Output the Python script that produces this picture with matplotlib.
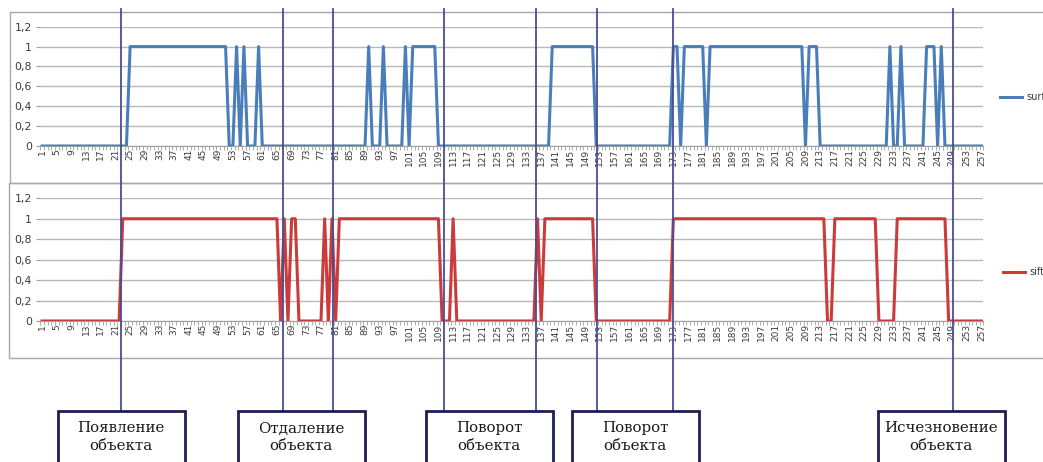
import matplotlib
matplotlib.use('Agg')
import matplotlib.pyplot as plt
from matplotlib.lines import Line2D
from matplotlib.patches import Rectangle
import numpy as np

# ---------------- data ----------------
categories = np.arange(1, 258)
surf = [
    0, 0, 0, 0, 0, 0, 0, 0, 0, 0,
    0, 0, 0, 0, 0, 0, 0, 0, 0, 0,
    0, 0, 0, 0, 1, 1, 1, 1, 1, 1,
    1, 1, 1, 1, 1, 1, 1, 1, 1, 1,
    1, 1, 1, 1, 1, 1, 1, 1, 1, 1,
    1, 0, 0, 1, 0, 1, 0, 0, 0, 1,
    0, 0, 0, 0, 0, 0, 0, 0, 0, 0,
    0, 0, 0, 0, 0, 0, 0, 0, 0, 0,
    0, 0, 0, 0, 0, 0, 0, 0, 0, 1,
    0, 0, 0, 1, 0, 0, 0, 0, 0, 1,
    0, 1, 1, 1, 1, 1, 1, 1, 0, 0,
    0, 0, 0, 0, 0, 0, 0, 0, 0, 0,
    0, 0, 0, 0, 0, 0, 0, 0, 0, 0,
    0, 0, 0, 0, 0, 0, 0, 0, 0, 1,
    1, 1, 1, 1, 1, 1, 1, 1, 1, 1,
    1, 0, 0, 0, 0, 0, 0, 0, 0, 0,
    0, 0, 0, 0, 0, 0, 0, 0, 0, 0,
    0, 0, 1, 1, 0, 1, 1, 1, 1, 1,
    1, 0, 1, 1, 1, 1, 1, 1, 1, 1,
    1, 1, 1, 1, 1, 1, 1, 1, 1, 1,
    1, 1, 1, 1, 1, 1, 1, 1, 0, 1,
    1, 1, 0, 0, 0, 0, 0, 0, 0, 0,
    0, 0, 0, 0, 0, 0, 0, 0, 0, 0,
    0, 1, 0, 0, 1, 0, 0, 0, 0, 0,
    0, 1, 1, 1, 0, 1, 0, 0, 0, 0,
    0, 0, 0, 0, 0, 0, 0,
]
sift = [
    0, 0, 0, 0, 0, 0, 0, 0, 0, 0,
    0, 0, 0, 0, 0, 0, 0, 0, 0, 0,
    0, 0, 1, 1, 1, 1, 1, 1, 1, 1,
    1, 1, 1, 1, 1, 1, 1, 1, 1, 1,
    1, 1, 1, 1, 1, 1, 1, 1, 1, 1,
    1, 1, 1, 1, 1, 1, 1, 1, 1, 1,
    1, 1, 1, 1, 1, 0, 1, 0, 1, 1,
    0, 0, 0, 0, 0, 0, 0, 1, 0, 1,
    0, 1, 1, 1, 1, 1, 1, 1, 1, 1,
    1, 1, 1, 1, 1, 1, 1, 1, 1, 1,
    1, 1, 1, 1, 1, 1, 1, 1, 1, 0,
    0, 0, 1, 0, 0, 0, 0, 0, 0, 0,
    0, 0, 0, 0, 0, 0, 0, 0, 0, 0,
    0, 0, 0, 0, 0, 1, 0, 1, 1, 1,
    1, 1, 1, 1, 1, 1, 1, 1, 1, 1,
    1, 0, 0, 0, 0, 0, 0, 0, 0, 0,
    0, 0, 0, 0, 0, 0, 0, 0, 0, 0,
    0, 0, 1, 1, 1, 1, 1, 1, 1, 1,
    1, 1, 1, 1, 1, 1, 1, 1, 1, 1,
    1, 1, 1, 1, 1, 1, 1, 1, 1, 1,
    1, 1, 1, 1, 1, 1, 1, 1, 1, 1,
    1, 1, 1, 1, 0, 0, 1, 1, 1, 1,
    1, 1, 1, 1, 1, 1, 1, 1, 0, 0,
    0, 0, 0, 1, 1, 1, 1, 1, 1, 1,
    1, 1, 1, 1, 1, 1, 1, 0, 0, 0,
    0, 0, 0, 0, 0, 0, 0,
]
x_tick_labels = [str(v) for v in range(1, 258, 4)]
y_ticks = [0, 0.2, 0.4, 0.6, 0.8, 1.0, 1.2]
y_tick_labels = ['0', '0,2', '0,4', '0,6', '0,8', '1', '1,2']
series_names = ['surf', 'sift']
event_x = [22.5, 66.6, 80.4, 110.6, 135.6, 152.3, 173.0, 249.1]
box_labels = ['Появление\nобъекта', 'Отдаление\nобъекта', 'Поворот\nобъекта',
              'Поворот\nобъекта', 'Исчезновение\nобъекта']

# ---------------- layout helpers ----------------
W, H = 1043, 462
fig = plt.figure(figsize=(W / 100, H / 100), dpi=100)
fig.patch.set_facecolor('white')

def fx(px):
    return px / W

def fy(py):
    return 1 - py / H

# chart frames (Excel chart areas)
for (l, t, b) in [(10, 12, 183), (9, 183, 358)]:
    fig.patches.append(Rectangle((fx(l), fy(b)), fx(1070 - l), (b - t) / H,
                                 transform=fig.transFigure, fill=False,
                                 ec='#A8A8A8', lw=1.0, zorder=0))

ax_top = fig.add_axes([fx(40.2), fy(146), fx(943.3), (146 - 26.7) / H])
ax_bot = fig.add_axes([fx(40.2), fy(321), fx(943.3), (321 - 198.3) / H])

colors = ['#4A7EBB', '#CC3B3B']
legend_y = [97, 272]
legend_x = [1000, 1003]

for ax, vals, col, name, ly, lx in zip([ax_top, ax_bot], [surf, sift], colors,
                                       series_names, legend_y, legend_x):
    ax.patch.set_visible(False)
    ax.plot(categories, vals, color=col, lw=2.2, label=name, zorder=3)
    ax.set_xlim(0.5, 257.5)
    ax.set_ylim(0, 1.2)
    ax.set_yticks(y_ticks)
    ax.set_yticklabels(y_tick_labels, fontsize=7.8, color='#3a3a3a')
    ax.set_xticks(np.arange(1, 258, 4))
    ax.set_xticklabels(x_tick_labels, rotation=90, fontsize=6.5, color='#3a3a3a')
    ax.set_xticks(np.arange(0.5, 258, 1), minor=True)
    ax.tick_params(axis='x', which='major', length=0, pad=2)
    ax.tick_params(axis='x', which='minor', length=3, color='#A0A0A0', width=0.6)
    ax.tick_params(axis='y', length=3, color='#A0A0A0', width=0.8, pad=3)
    ax.yaxis.grid(True, color='#B8B8B8', lw=1.0)
    ax.set_axisbelow(True)
    for s in ['top', 'right', 'left']:
        ax.spines[s].set_visible(False)
    ax.spines['bottom'].set_color('#A0A0A0')
    ax.legend(loc='center left', bbox_to_anchor=(fx(lx), fy(ly)),
              bbox_transform=fig.transFigure, frameon=False, fontsize=7,
              handlelength=2.3, handletextpad=0.4, borderpad=0, borderaxespad=0,
              labelcolor='#404040')

# event lines
line_top, line_bot = 9, 411
for ex in event_x:
    xp = ax_top.transData.transform((ex, 0))[0]
    fig.lines.append(Line2D([xp / W, xp / W], [fy(line_top), fy(line_bot)],
                            transform=fig.transFigure, color='#4B4B96', lw=1.3,
                            zorder=5))

# boxes
box_centers = [121, 301, 489, 635, 941]
box_w = 127
for cx, lab in zip(box_centers, box_labels):
    fig.patches.append(Rectangle((fx(cx - box_w / 2), fy(480)), fx(box_w), (480 - line_bot) / H,
                                 transform=fig.transFigure, fill=True, fc='white',
                                 ec='#1E1E50', lw=2.0, zorder=6))
    fig.text(fx(cx), fy(437), lab, ha='center', va='center', fontsize=10.8,
             family='DejaVu Serif', color='#1a1a1a', linespacing=1.3, zorder=7)

fig.savefig('out.png', dpi=100)
